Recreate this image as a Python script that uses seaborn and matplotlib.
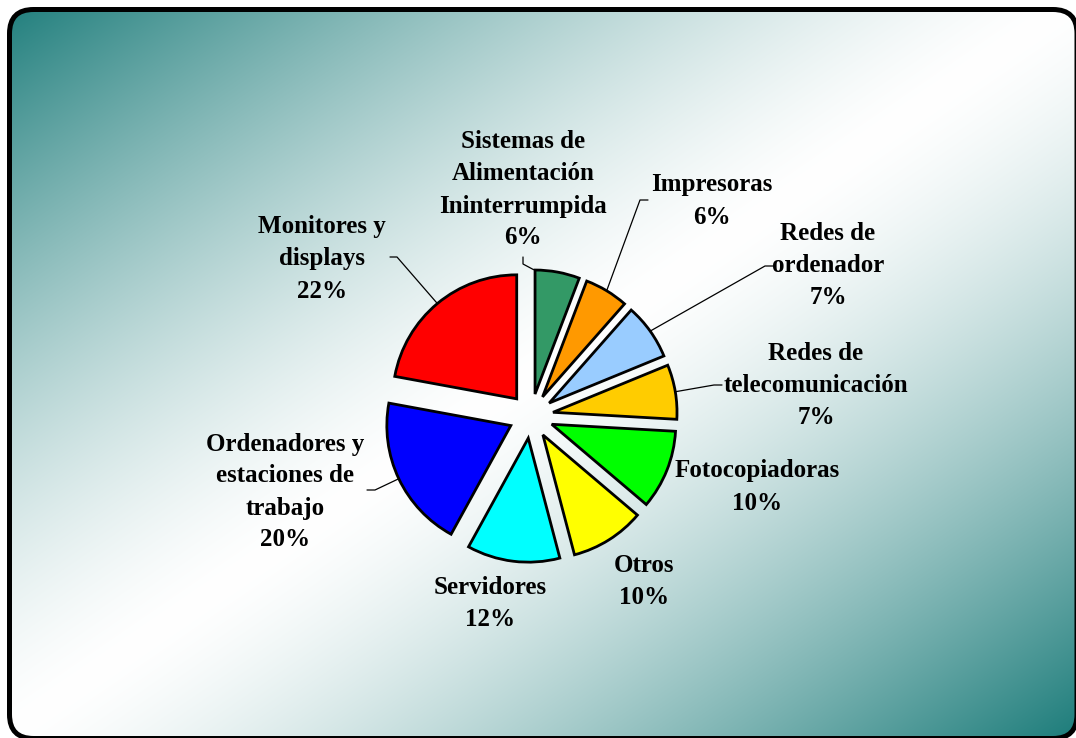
import numpy as np
import matplotlib
matplotlib.use('Agg')
import matplotlib.pyplot as plt
import seaborn as sns
from matplotlib.patches import FancyBboxPatch

# ---------------------------------------------------------
# data (shares in %)
categories = ['Sistemas de\nAlimentación\nIninterrumpida', 'Impresoras',
              'Redes de\nordenador', 'Redes de\ntelecomunicación',
              'Fotocopiadoras', 'Otros', 'Servidores',
              'Ordenadores y\nestaciones de\ntrabajo', 'Monitores y\ndisplays']
shares = [5.8, 5.7, 7.3, 7.1, 10.3, 9.7, 12.1, 19.9, 22.1]
colors = ['#339966', '#FF9900', '#99CCFF', '#FFCC00', '#00FF00',
          '#FFFF00', '#00FFFF', '#0000FF', '#FF0000']

# label centres (pixels) and leader hook (pixels) or None
label_pos = [(523, 190), (712, 201), (828, 265), (816, 386), (757, 487),
             (644, 582), (490, 603), (285, 492), (322, 259)]
leaders = [[(523, 257), (523, 264)], [(648, 200), (640, 200)],
           [(773, 266), (765, 266)], [(722, 385), (714, 385)],
           None, None, None,
           [(367, 490), (375, 490)], [(390, 257), (397, 257)]]
leader_frac = [0.05, 0.5, 0.5, 0.5, 0.5, 0.5, 0.5, 0.5, 0.5]

sns.set_theme(style='white')
plt.rcParams['font.family'] = ['Liberation Serif', 'DejaVu Serif']

W, H = 1076, 738
CX, CY, R = 531, 416, 124
EXPL = 0.18

fig = plt.figure(figsize=(W / 100, H / 100), dpi=100)
fig.patch.set_facecolor('white')

# background gradient inside rounded frame
bg = fig.add_axes([0, 0, 1, 1])
bg.set_xlim(0, W)
bg.set_ylim(H, 0)
bg.axis('off')
yy, xx = np.mgrid[0:H, 0:W]
t = np.abs(xx / W + yy / H - 1)
w = t ** 1.4
teal = np.array([28, 124, 122]) / 255
img = 1 - w[..., None] * (1 - teal)
frame = FancyBboxPatch((9.5, 9.5), W - 9.5 + 1, H - 9.5 + 0.5,
                       boxstyle='round,pad=0,rounding_size=24',
                       fc='none', ec='black', lw=3.6, zorder=3)
bg.add_patch(frame)
im = bg.imshow(img, extent=(0, W, H, 0), aspect='auto', zorder=0)
im.set_clip_path(frame)

# pie
ax = fig.add_axes([0, 0, 1, 1])
ax.patch.set_alpha(0)
wedges, _ = ax.pie(shares, colors=colors, startangle=90, counterclock=False,
                   explode=[EXPL] * len(shares), radius=1,
                   wedgeprops=dict(edgecolor='black', linewidth=2))
ax.set_xlim(-CX / R, (W - CX) / R)
ax.set_ylim(-(H - CY) / R, CY / R)
ax.set_aspect('auto')
ax.axis('off')


def px2data(p):
    return (p[0] - CX) / R, (CY - p[1]) / R


for i, wdg in enumerate(wedges):
    lx, ly = px2data(label_pos[i])
    ax.text(lx, ly, f"{categories[i]}\n{shares[i]:.0f}%", ha='center',
            va='center', fontsize=18, fontweight='bold', linespacing=1.5,
            color='black')
    if leaders[i] is not None:
        a1, a2 = wdg.theta1, wdg.theta2
        ang = np.deg2rad(a2 - (a2 - a1) * leader_frac[i])
        ex, ey = (1 + EXPL) * np.cos(ang), (1 + EXPL) * np.sin(ang)
        pts = [px2data(p) for p in leaders[i]] + [(ex, ey)]
        ax.plot([p[0] for p in pts], [p[1] for p in pts], color='black',
                lw=0.9, zorder=1)

plt.savefig('out.png', dpi=100)
